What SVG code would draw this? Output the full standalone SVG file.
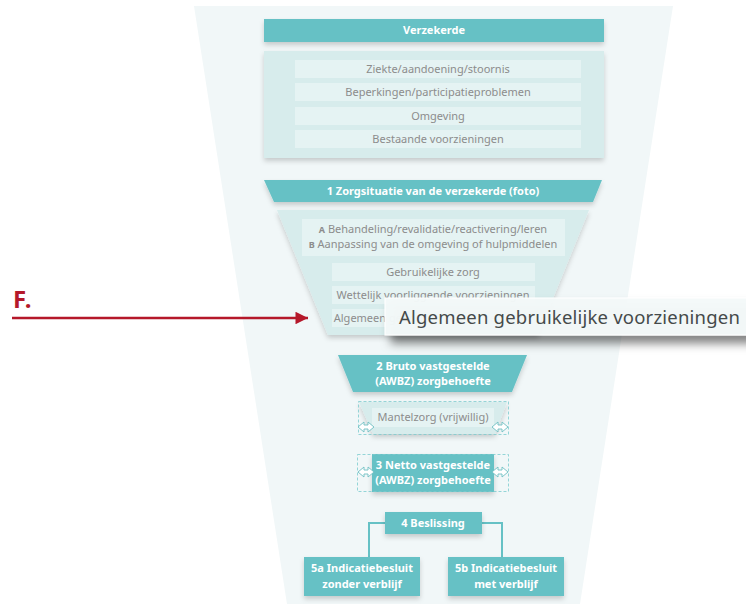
<svg xmlns="http://www.w3.org/2000/svg" width="746" height="604" viewBox="0 0 746 604">
<style>
.hdr{fill:#66c1c5}
.body{fill:#d7ecec}
.row{fill:#e5f3f3}
.t{font-family:"Noto Sans","Open Sans",sans-serif;font-size:11px;fill:#8c8c8c;text-anchor:middle}
.w{font-family:"Noto Sans","Open Sans",sans-serif;font-size:11px;font-weight:bold;fill:#ffffff;text-anchor:middle}
.dash{fill:none;stroke:#7ccbce;stroke-width:0.8;stroke-dasharray:3 2}
.dbl{fill:#ffffff;stroke:#6fbfc3;stroke-width:0.9}
.conn{fill:none;stroke:#66c1c5;stroke-width:2}
</style>
<defs>
<filter id="sh" x="-10%" y="-20%" width="120%" height="160%">
<feDropShadow dx="0" dy="3" stdDeviation="2.5" flood-color="#000" flood-opacity="0.18"/>
</filter>
<filter id="sh2" x="-10%" y="-30%" width="130%" height="200%">
<feDropShadow dx="6" dy="8" stdDeviation="5" flood-color="#000" flood-opacity="0.5"/>
</filter>
<marker id="arr" viewBox="0 0 10 10" refX="10" refY="5" markerWidth="7" markerHeight="5" markerUnits="strokeWidth" orient="auto">
<path d="M0,0 L10,5 L0,10 z" fill="#b5182a"/>
</marker>
<g id="dblarrow">
<path class="dbl" d="M0,0 L6,-5 L6,-2 L10,-2 L10,-5 L16,0 L10,5 L10,2 L6,2 L6,5 z"/>
</g>
</defs>

<polygon points="194,6 673,6 580,604 287,604" fill="#f1f7f8"/>

<g id="verzekerde">
<rect class="hdr" x="264" y="19" width="340" height="23" filter="url(#sh)"/>
<text class="w" x="434" y="34">Verzekerde</text>
</g>

<g id="verzekerde-details">
<rect class="body" x="264" y="51" width="340" height="107" filter="url(#sh)"/>
<rect class="row" x="295" y="60" width="286" height="18"/>
<rect class="row" x="295" y="83" width="286" height="18"/>
<rect class="row" x="295" y="107" width="286" height="18"/>
<rect class="row" x="295" y="130" width="286" height="18"/>
<text class="t" x="438" y="73">Ziekte/aandoening/stoornis</text>
<text class="t" x="438" y="96">Beperkingen/participatieproblemen</text>
<text class="t" x="438" y="120">Omgeving</text>
<text class="t" x="438" y="143">Bestaande voorzieningen</text>
</g>

<g id="zorgsituatie">
<polygon class="hdr" points="264,180 602,180 593,202 274,202" filter="url(#sh)"/>
<text class="w" x="433" y="195">1 Zorgsituatie van de verzekerde (foto)</text>
</g>

<g id="zorgsituatie-details">
<polygon class="body" points="277,210 589,210 538,335 328,335" filter="url(#sh)"/>
<rect class="row" x="302" y="219" width="263" height="37"/>
<text class="t" x="433" y="233"><tspan font-weight="bold" font-size="9">A</tspan> Behandeling/revalidatie/reactivering/leren</text>
<text class="t" x="433" y="248"><tspan font-weight="bold" font-size="9">B</tspan> Aanpassing van de omgeving of hulpmiddelen</text>
<rect class="row" x="332" y="263" width="203" height="18"/>
<rect class="row" x="332" y="286" width="203" height="18"/>
<rect class="row" x="332" y="309" width="203" height="18"/>
<text class="t" x="433" y="276">Gebruikelijke zorg</text>
<text class="t" x="433" y="299">Wettelijk voorliggende voorzieningen</text>
<text class="t" x="433" y="322">Algemeen gebruikelijke voorzieningen</text>
</g>

<g id="bruto">
<polygon class="hdr" points="338,355 527,355 512,392 353,392" filter="url(#sh)"/>
<text class="w" x="433" y="370">2 Bruto vastgestelde</text>
<text class="w" x="433" y="385">(AWBZ) zorgbehoefte</text>
</g>

<g id="mantelzorg">
<polygon class="body" points="359,402 507,402 495,434 373,434" filter="url(#sh)"/>
<rect class="row" x="372" y="408" width="122" height="19"/>
<text class="t" x="433" y="421">Mantelzorg (vrijwillig)</text>
<rect class="dash" x="358.5" y="401.5" width="150" height="33"/>
<use href="#dblarrow" x="358" y="427"/>
<use href="#dblarrow" x="492" y="427"/>
</g>

<g id="netto">
<rect class="hdr" x="372" y="454" width="122" height="38" filter="url(#sh)"/>
<text class="w" x="433" y="469">3 Netto vastgestelde</text>
<text class="w" x="433" y="484">(AWBZ) zorgbehoefte</text>
<rect class="dash" x="357.5" y="454.5" width="151" height="37"/>
<use href="#dblarrow" x="358" y="472"/>
<use href="#dblarrow" x="492" y="472"/>
</g>

<g id="connectors">
<path class="conn" d="M385,523 H369 V557"/>
<path class="conn" d="M482,523 H502 V557"/>
<line x1="12" y1="318" x2="308" y2="318" stroke="#b5182a" stroke-width="2.5" marker-end="url(#arr)"/>
</g>

<g id="beslissing">
<rect class="hdr" x="385" y="512" width="97" height="22" filter="url(#sh)"/>
<text class="w" x="433" y="527">4 Beslissing</text>
</g>

<g id="besluit-5a">
<rect class="hdr" x="304" y="557" width="116" height="39" filter="url(#sh)"/>
<text class="w" x="362" y="572">5a Indicatiebesluit</text>
<text class="w" x="362" y="588">zonder verblijf</text>
</g>

<g id="besluit-5b">
<rect class="hdr" x="448" y="557" width="116" height="39" filter="url(#sh)"/>
<text class="w" x="506" y="572">5b Indicatiebesluit</text>
<text class="w" x="506" y="588">met verblijf</text>
</g>

<g id="label-F">
<text x="13" y="308" font-family="'Noto Sans','Open Sans',sans-serif" font-size="24" font-weight="bold" fill="#b5182a">F.</text>
</g>

<g id="tooltip">
<rect x="385" y="298" width="365" height="37" fill="#f4f9f9" fill-opacity="0.96" stroke="#ffffff" stroke-width="1" filter="url(#sh2)"/>
<text x="399" y="324" font-family="'Noto Sans','Open Sans',sans-serif" font-size="18.5" letter-spacing="0.2" fill="#454a4a">Algemeen gebruikelijke voorzieningen</text>
</g>
</svg>
